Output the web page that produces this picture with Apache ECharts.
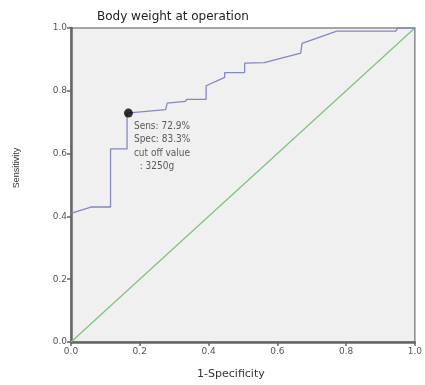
<!DOCTYPE html>
<html>
<head>
<meta charset="utf-8">
<script src="https://cdn.jsdelivr.net/npm/echarts@6/dist/echarts.min.js"></script>
<style>
  html, body { margin: 0; padding: 0; background: #fff; }
  #chart { width: 425px; height: 385px; }
</style>
</head>
<body>
<div id="chart"></div>
<script>
// ROC curve: [1-specificity, sensitivity]
let rocPoints = [
  [0, 0.41], [0.06, 0.43], [0.115, 0.43], [0.115, 0.615], [0.163, 0.615], [0.163, 0.729],
  [0.275, 0.74], [0.28, 0.761], [0.332, 0.766], [0.337, 0.773], [0.393, 0.773], [0.393, 0.816],
  [0.447, 0.843], [0.447, 0.858], [0.505, 0.858], [0.505, 0.888], [0.562, 0.89],
  [0.668, 0.92], [0.672, 0.951], [0.773, 0.99], [0.945, 0.99], [0.95, 1.0], [1.0, 1.0]
]
let refLine = [[0, 0], [1, 1]]
let cutOff = [[0.167, 0.729]]
let cutOffText = ['Sens: 72.9%', 'Spec: 83.3%', 'cut off value', '  : 3250g']
let ticks = [0, 0.2, 0.4, 0.6, 0.8, 1.0]

let myChart = echarts.init(document.getElementById('chart'))
let tickLabel = {
  color: '#555',
  fontSize: 9,
  fontFamily: 'DejaVu Sans',
  formatter: v => v.toFixed(1)
}
myChart.setOption({
  animation: false,
  title: {
    text: 'Body weight at operation',
    left: 92,
    top: 6,
    textStyle: { fontSize: 12, fontWeight: 'normal', color: '#222', fontFamily: 'DejaVu Sans' }
  },
  grid: {
    left: 71, right: 6, top: 28, bottom: 42,
    show: true,
    backgroundColor: '#f0f0f0',
    borderColor: '#8a8a8a',
    borderWidth: 1.5
  },
  xAxis: {
    type: 'value', min: 0, max: 1, interval: 0.2,
    name: '1-Specificity', nameLocation: 'middle', nameGap: 27,
    nameTextStyle: { fontSize: 11, color: '#333', fontFamily: 'DejaVu Sans', padding: [0, 24, 0, 0] },
    axisLine: { lineStyle: { color: '#666', width: 2.5 } },
    axisTick: { show: true, length: 4, lineStyle: { color: '#666', width: 1.5 } },
    axisLabel: Object.assign({ margin: 5 }, tickLabel),
    splitLine: { show: false }
  },
  yAxis: {
    type: 'value', min: 0, max: 1, interval: 0.2,
    name: 'Sensitivity', nameLocation: 'middle', nameGap: 50,
    nameTextStyle: { fontSize: 9, color: '#333', fontFamily: 'Liberation Sans', padding: [0, 0, 0, 34] },
    axisLine: { show: true, lineStyle: { color: '#666', width: 2.5 } },
    axisTick: { show: true, length: 4, lineStyle: { color: '#666', width: 1.5 } },
    axisLabel: Object.assign({ margin: 4 }, tickLabel),
    splitLine: { show: false }
  },
  series: [
    {
      type: 'line',
      data: refLine,
      showSymbol: false,
      lineStyle: { color: '#7cc27c', width: 1.2 },
      z: 2
    },
    {
      type: 'line',
      data: rocPoints,
      showSymbol: false,
      lineStyle: { color: '#8388bf', width: 1.3 },
      z: 3
    },
    {
      type: 'scatter',
      data: cutOff,
      symbolSize: 9,
      itemStyle: { color: '#000' },
      z: 4,
      label: {
        show: true,
        position: [10, 11],
        align: 'left',
        verticalAlign: 'top',
        formatter: cutOffText.join('\n'),
        fontSize: 10,
        lineHeight: 13.5,
        color: '#333',
        fontFamily: 'DejaVu Sans Condensed'
      }
    }
  ]
})
</script>
</body>
</html>
